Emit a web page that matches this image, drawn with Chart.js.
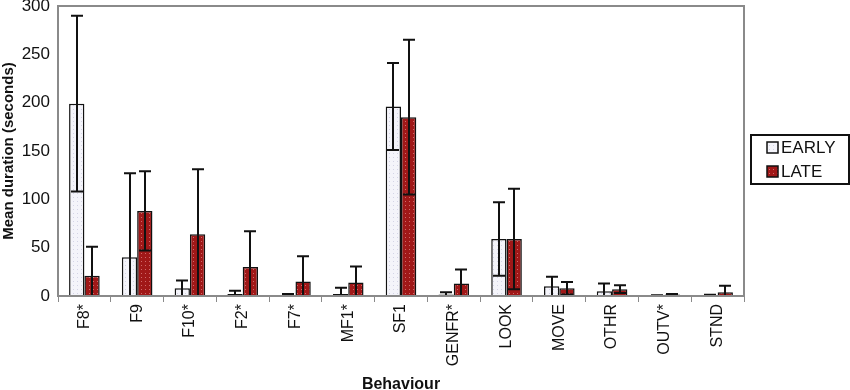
<!DOCTYPE html>
<html>
<head>
<meta charset="utf-8">
<script src="https://cdn.jsdelivr.net/npm/chart.js@4/dist/chart.umd.min.js"></script>
<style>
  html, body { margin: 0; padding: 0; background: #fff; }
  #wrap { width: 850px; height: 390px; }
</style>
</head>
<body>
<div id="wrap"><canvas id="chart" width="850" height="390"></canvas></div>
<script>
const behaviours = ['F8*', 'F9', 'F10*', 'F2*', 'F7*', 'MF1*', 'SF1', 'GENFR*', 'LOOK', 'MOVE', 'OTHR', 'OUTV*', 'STND'];
const earlyMean = [199, 40, 8, 2, 1, 2, 196, 1.5, 59, 10, 5, 0.5, 0.8];
const earlyErr  = [91, 87, 8, 3.5, 1, 6.5, 45, 2.3, 38, 10, 8, 0.3, 0.5];
const lateMean  = [21, 88, 64, 30, 15, 14, 185, 13, 59, 8, 7, 1.5, 4];
const lateErr   = [30, 41, 67, 37, 26, 16.5, 80, 14.5, 52, 6.5, 4, 0.5, 6.5];
const yTicks = [0, 50, 100, 150, 200, 250, 300];

const FONT = '"Liberation Sans", Arial, sans-serif';

// dotted fill like the original spreadsheet pattern
function makePattern(bg, dot) {
    const c = document.createElement('canvas');
    c.width = 4; c.height = 4;
    const g = c.getContext('2d');
    g.fillStyle = bg;
    g.fillRect(0, 0, 4, 4);
    g.fillStyle = dot;
    g.fillRect(1, 1, 1, 1);
    return g.createPattern(c, 'repeat');
}
const ctx = document.getElementById('chart').getContext('2d');
const earlyFill = makePattern('#f4f4fa', '#d4d4e6');
const lateFill = makePattern('#a01818', '#cf6a6a');

const errors = [earlyErr, lateErr];

const errorBars = {
    id: 'errorBars',
    afterDatasetsDraw(chart) {
        const y = chart.scales.y;
        const c = chart.ctx;
        c.save();
        c.strokeStyle = '#111';
        c.lineWidth = 2;
        chart.data.datasets.forEach((ds, di) => {
            const meta = chart.getDatasetMeta(di);
            meta.data.forEach((bar, i) => {
                const v = ds.data[i], e = errors[di][i];
                const hi = y.getPixelForValue(v + e);
                const lo = y.getPixelForValue(Math.max(v - e, 0));
                const x = Math.round(bar.x);
                c.beginPath();
                c.moveTo(x, lo); c.lineTo(x, hi);
                c.moveTo(x - 6, hi); c.lineTo(x + 6, hi);
                if (v - e > 0) { c.moveTo(x - 6, lo); c.lineTo(x + 6, lo); }
                c.stroke();
            });
        });
        c.restore();
    },
    afterDraw(chart) {
        const a = chart.chartArea;
        const c = chart.ctx;
        c.save();
        c.strokeStyle = '#8a8a8a';
        c.lineWidth = 2;
        c.strokeRect(a.left, a.top, a.right - a.left, a.bottom - a.top);
        // legend box
        c.strokeStyle = '#111';
        c.strokeRect(751, 135, 98, 49);
        c.lineWidth = 1.5;
        c.fillStyle = earlyFill;
        c.fillRect(767, 142, 11, 11);
        c.strokeRect(767, 142, 11, 11);
        c.fillStyle = lateFill;
        c.fillRect(767, 166, 11, 11);
        c.strokeRect(767, 166, 11, 11);
        c.fillStyle = '#111';
        c.font = '17px ' + FONT;
        c.textBaseline = 'middle';
        c.fillText('EARLY', 781, 148);
        c.fillText('LATE', 781, 172);
        c.restore();
    }
};

new Chart(ctx, {
    type: 'bar',
    data: {
        labels: behaviours,
        datasets: [{
            label: 'EARLY',
            data: earlyMean,
            backgroundColor: earlyFill,
            borderColor: '#111',
            borderWidth: 1.5,
            borderSkipped: 'bottom'
        }, {
            label: 'LATE',
            data: lateMean,
            backgroundColor: lateFill,
            borderColor: '#111',
            borderWidth: 1.5,
            borderSkipped: 'bottom'
        }]
    },
    options: {
        responsive: false,
        animation: false,
        datasets: { bar: { categoryPercentage: 0.58, barPercentage: 1 } },
        layout: { padding: { top: 6, right: 106, left: 0, bottom: 0 } },
        plugins: { legend: { display: false }, tooltip: { enabled: false } },
        scales: {
            x: {
                grid: { offset: true, drawOnChartArea: false, tickLength: 6, color: '#8a8a8a' },
                border: { color: '#8a8a8a', width: 2 },
                ticks: {
                    color: '#111', minRotation: 90, maxRotation: 90, padding: 2,
                    font: { family: FONT, size: 16 }
                },
                title: {
                    display: true, text: 'Behaviour', color: '#111', padding: { top: 0, bottom: -4 },
                    font: { family: FONT, size: 16, weight: 'bold' }
                },
                afterFit(scale) {
                    scale.height = 94;
                    scale.paddingLeft = 0; scale.paddingRight = 0;
                }
            },
            y: {
                min: 0, max: 300,
                afterBuildTicks(scale) { scale.ticks = yTicks.map(v => ({ value: v })); },
                grid: { display: false, tickLength: 0 },
                border: { color: '#8a8a8a', width: 2 },
                ticks: {
                    color: '#111', padding: 8,
                    font: { family: FONT, size: 17 }
                },
                title: {
                    display: true, text: 'Mean duration (seconds)', color: '#111', padding: { top: 0, bottom: 0 },
                    font: { family: FONT, size: 15, weight: 'bold' }
                },
                afterFit(scale) {
                    scale.width = 58;
                    scale.paddingTop = 0; scale.paddingBottom = 0;
                }
            }
        }
    },
    plugins: [errorBars]
});
</script>
</body>
</html>
